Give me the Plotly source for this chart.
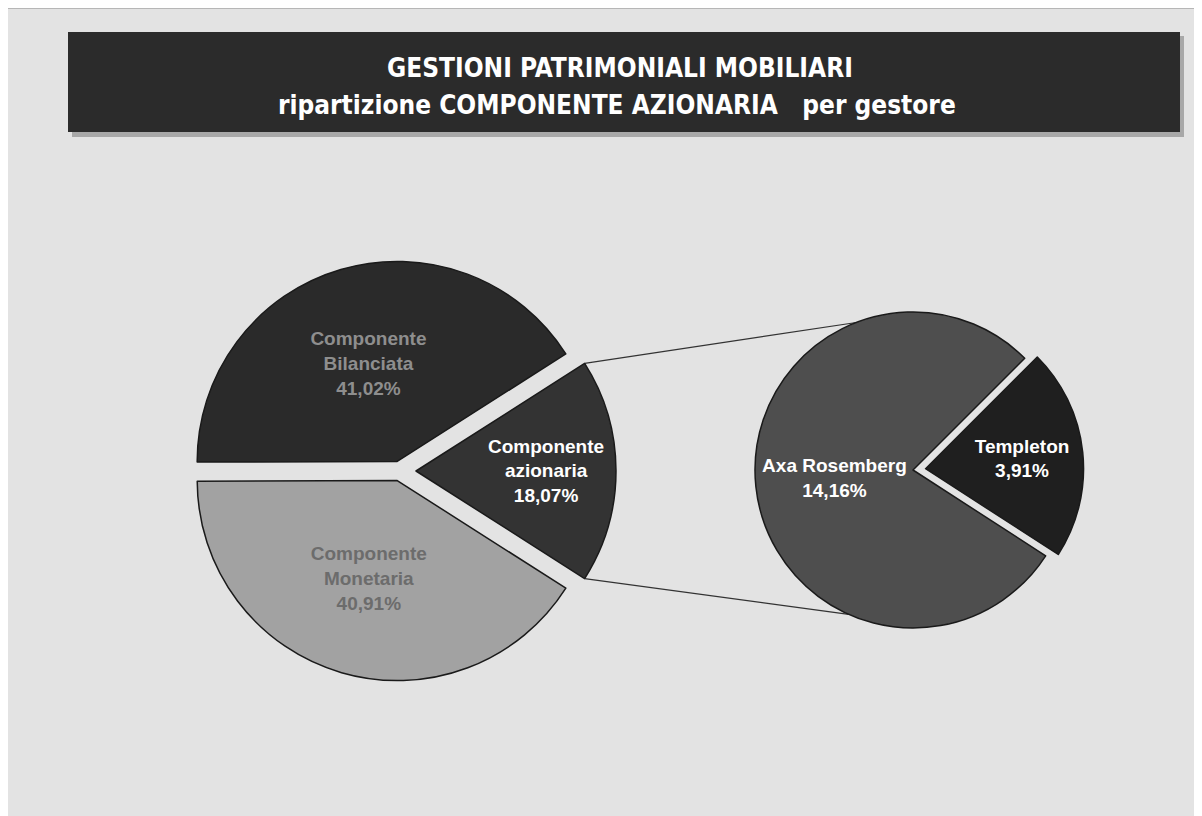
import math
import plotly.graph_objects as go

# ---- data ----
main_labels = ["Componente<br>azionaria", "Componente<br>Monetaria", "Componente<br>Bilanciata"]
main_values = [18.07, 40.91, 41.02]
sub_labels = ["Templeton", "Axa Rosemberg"]
sub_values = [3.91, 14.16]
title_line1 = "GESTIONI PATRIMONIALI MOBILIARI"
title_line2 = "ripartizione COMPONENTE AZIONARIA   per gestore"

W, H = 1202, 816
OFF = 8  # page body margin


def px(x):
    return (x - OFF) / W


def py(y):
    return 1 - (y - OFF) / H


# ---- geometry (page pixels) ----
L_cx, L_cy, L_r = 400, 471, 200
main_pull = [0.08, 0.05, 0.05]
R_cx, R_cy, R_r = 913, 470, 158
sub_pull = [0.08, 0.0]


def dom(cx, cy, r, pull):
    s = r * (1 + max(pull))
    return dict(x=[px(cx - s), px(cx + s)], y=[py(cy + s), py(cy - s)])


az_half = 360 * main_values[0] / sum(main_values) / 2
main_rotation = 90 - az_half
sub_rotation = 45

label_font = "Liberation Sans, Arial, sans-serif"

fig = go.Figure()
fig.add_trace(go.Pie(
    labels=main_labels, values=main_values, sort=False, direction="clockwise",
    rotation=main_rotation, pull=main_pull, domain=dom(L_cx, L_cy, L_r, main_pull),
    marker=dict(colors=["#333333", "#a2a2a2", "#2a2a2a"], line=dict(color="#1a1a1a", width=1.5)),
    texttemplate="<b>%{label}<br>%{value:.2f}%</b>", textinfo="text",
    textposition="inside", insidetextorientation="horizontal",
    insidetextfont=dict(family=label_font, size=19,
                        color=["#ffffff", "#6c6c6c", "#8e8e8e"]),
    showlegend=False, hoverinfo="label+value",
))
fig.add_trace(go.Pie(
    labels=sub_labels, values=sub_values, sort=False, direction="clockwise",
    rotation=sub_rotation, pull=sub_pull, domain=dom(R_cx, R_cy, R_r, sub_pull),
    marker=dict(colors=["#1f1f1f", "#4e4e4e"], line=dict(color="#1a1a1a", width=1.5)),
    texttemplate="<b>%{label}<br>%{value:.2f}%</b>", textinfo="text",
    textposition="inside", insidetextorientation="horizontal",
    insidetextfont=dict(family=label_font, size=19, color="#ffffff"),
    showlegend=False, hoverinfo="label+value",
))

# connector lines from azionaria slice to sub pie
off = main_pull[0] * L_r
az_cx = L_cx + off
p1 = (az_cx + L_r * math.cos(math.radians(az_half)), L_cy - L_r * math.sin(math.radians(az_half)))
p2 = (az_cx + L_r * math.cos(math.radians(-az_half)), L_cy - L_r * math.sin(math.radians(-az_half)))
q1 = (R_cx + R_r * math.cos(math.radians(111)), R_cy - R_r * math.sin(math.radians(111)))
q2 = (R_cx + R_r * math.cos(math.radians(246)), R_cy - R_r * math.sin(math.radians(246)))

shapes = []
for a, b in [(p1, q1), (p2, q2)]:
    shapes.append(dict(type="line", xref="paper", yref="paper",
                       x0=px(a[0]), y0=py(a[1]), x1=px(b[0]), y1=py(b[1]),
                       line=dict(color="#333333", width=1.2), layer="below"))

# page frame
shapes.append(dict(type="rect", xref="paper", yref="paper", x0=px(5), y0=-0.05, x1=1.05, y1=py(8),
                   line=dict(color="#8a8a8a", width=1), fillcolor="rgba(0,0,0,0)", layer="below"))
# banner shadow + banner
shapes.append(dict(type="rect", xref="paper", yref="paper", x0=px(72), y0=py(137), x1=px(1184), y1=py(36),
                   line=dict(width=0), fillcolor="#a8a8a8", layer="below"))
shapes.append(dict(type="rect", xref="paper", yref="paper", x0=px(68), y0=py(132), x1=px(1180), y1=py(32),
                   line=dict(width=0), fillcolor="#2b2b2b", layer="below"))

title_font = dict(family="DejaVu Sans Condensed, Liberation Sans, Arial, sans-serif", size=26, color="#ffffff")
annotations = [
    dict(text="<b>" + title_line1 + "</b>", x=px(620), y=py(68), xref="paper", yref="paper", showarrow=False,
         font=title_font, xanchor="center", yanchor="middle"),
    dict(text="<b>" + title_line2 + "</b>", x=px(617), y=py(105), xref="paper", yref="paper", showarrow=False,
         font=title_font, xanchor="center", yanchor="middle"),
]

fig.update_layout(
    width=W, height=H, margin=dict(l=0, r=0, t=0, b=0),
    paper_bgcolor="#e3e3e3", plot_bgcolor="#e3e3e3",
    separators=",.", shapes=shapes, annotations=annotations,
)

fig.write_html("out.html")
